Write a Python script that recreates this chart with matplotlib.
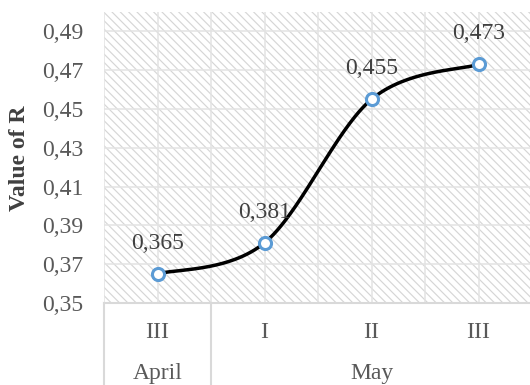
import numpy as np
import matplotlib
matplotlib.use("Agg")
import matplotlib.pyplot as plt
from matplotlib.lines import Line2D
import matplotlib.transforms as mtransforms

# Data
decades = ["III", "I", "II", "III"]
months = ["April", "May"]
month_spans = [(0, 0), (1, 3)]          # first/last decade index of each month
r_values = [0.365, 0.381, 0.455, 0.473]
y_ticks = [0.35, 0.37, 0.39, 0.41, 0.43, 0.45, 0.47, 0.49]
y_tick_labels = ["0,35", "0,37", "0,39", "0,41", "0,43", "0,45", "0,47", "0,49"]
value_labels = ["0,365", "0,381", "0,455", "0,473"]

plt.rcParams["font.family"] = ["Liberation Serif", "DejaVu Serif"]
plt.rcParams["hatch.color"] = "#d6d6d6"
plt.rcParams["hatch.linewidth"] = 0.85

TEXT = "#595959"
GRID = "#e3e3e3"
AXIS = "#d9d9d9"
FS = 17

W, H = 530, 385


def smooth_curve(xs, ys, n=60):
    """Catmull-Rom style smoothing through the given points."""
    pts = np.column_stack([xs, ys]).astype(float)
    ext = np.vstack([pts[0], pts, pts[-1]])
    out = []
    for i in range(len(pts) - 1):
        p0, p1, p2, p3 = ext[i], ext[i + 1], ext[i + 2], ext[i + 3]
        c1 = p1 + (p2 - p0) / 6.0
        c2 = p2 - (p3 - p1) / 6.0
        t = np.linspace(0, 1, n)[:, None]
        seg = ((1 - t) ** 3) * p1 + 3 * ((1 - t) ** 2) * t * c1 \
            + 3 * (1 - t) * t ** 2 * c2 + t ** 3 * p2
        out.append(seg if i == 0 else seg[1:])
    seg = np.vstack(out)
    return seg[:, 0], seg[:, 1]


fig = plt.figure(figsize=(W / 100, H / 100), dpi=100)
ax = fig.add_axes([104 / W, 82 / H, 428 / W, 291 / H])

x = np.arange(len(r_values))
ax.set_xlim(-0.5, len(r_values) - 0.5)
ax.set_ylim(0.35, 0.50)

# hatched plot area
ax.add_patch(plt.Rectangle((0, 0), 1, 1, transform=ax.transAxes,
                           facecolor="white", edgecolor="#d6d6d6",
                           hatch="\\\\\\\\", linewidth=0, zorder=0))

# grid
for gx in np.arange(-0.5, len(r_values) - 0.5 + 0.01, 0.5):
    ax.axvline(gx, color=GRID, lw=1.1, zorder=1)
for gy in y_ticks:
    ax.axhline(gy, color=GRID, lw=1.1, zorder=1)

# smoothed line and markers
sx, sy = smooth_curve(x, r_values)
ax.plot(sx, sy, color="black", lw=2.5, zorder=3, solid_capstyle="round")
ax.plot(x, r_values, linestyle="none", marker="o", markersize=8.7,
        markerfacecolor="white", markeredgecolor="#5B9BD5",
        markeredgewidth=2.2, zorder=4)

for xi, v, lab in zip(x, r_values, value_labels):
    ax.annotate(lab, (xi, v), xytext=(0, 22), textcoords="offset points",
                ha="center", va="center", fontsize=FS, color="#404040", zorder=5)

# axes styling
for side in ["top", "right", "left"]:
    ax.spines[side].set_visible(False)
ax.spines["bottom"].set_color(AXIS)
ax.spines["bottom"].set_linewidth(1.5)
ax.spines["bottom"].set_zorder(2)

ax.set_yticks(y_ticks)
ax.set_yticklabels(y_tick_labels)
ax.tick_params(axis="y", length=0, pad=15, labelsize=FS, labelcolor=TEXT)

ax.set_xticks(x)
ax.set_xticklabels([])
ax.tick_params(axis="x", length=0)

fig.text(20 / W, 1 - 158 / H, "Value of R", rotation=90, ha="center",
         va="center", fontsize=FS, fontweight="bold", color="#404040")

# two-level category axis: decades, then months
trans = mtransforms.blended_transform_factory(ax.transData, fig.transFigure)
for xi, lab in zip(x, decades):
    ax.text(xi, 1 - 333 / H, lab, transform=trans, ha="center", va="center",
            fontsize=FS, color=TEXT)

y_top = 82 / H
for start, end in month_spans:
    ax.add_line(Line2D([start - 0.5, start - 0.5], [0, y_top], transform=trans,
                       color=AXIS, lw=1.5, clip_on=False))
for name, (start, end) in zip(months, month_spans):
    ax.text((start + end) / 2, 1 - 374 / H, name, transform=trans,
            ha="center", va="center", fontsize=FS, color=TEXT)

fig.savefig("out.png", dpi=100)
